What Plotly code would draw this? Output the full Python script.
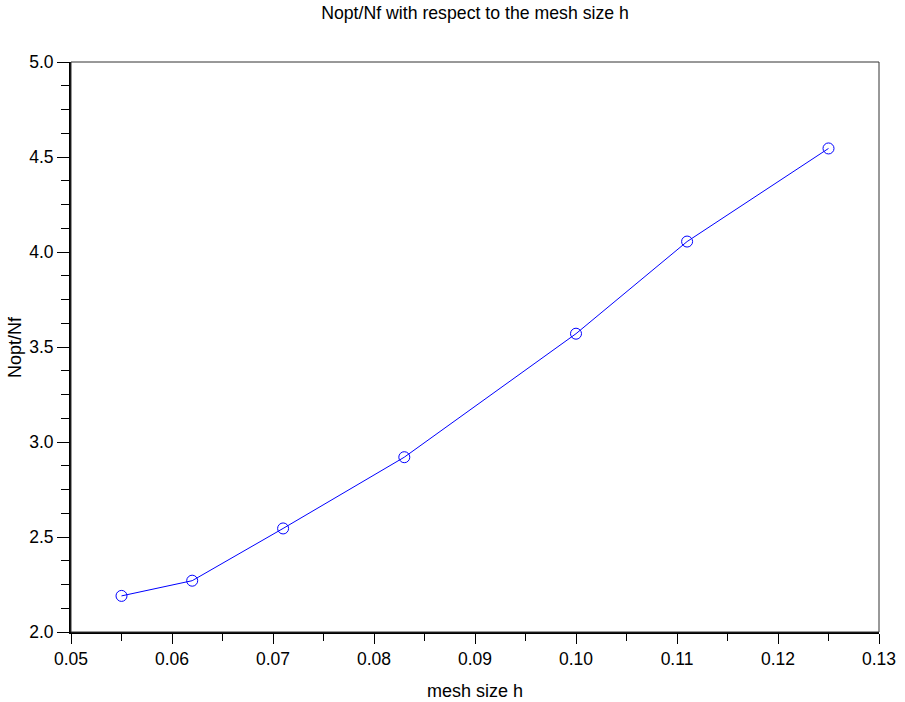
import plotly.graph_objects as go

h = [0.055, 0.062, 0.071, 0.083, 0.100, 0.111, 0.125]
ratio = [2.19, 2.27, 2.545, 2.92, 3.57, 4.055, 4.545]

x_ticks = [0.05, 0.06, 0.07, 0.08, 0.09, 0.10, 0.11, 0.12, 0.13]
x_labels = ["0.05", "0.06", "0.07", "0.08", "0.09", "0.10", "0.11", "0.12", "0.13"]
y_ticks = [2.0, 2.5, 3.0, 3.5, 4.0, 4.5, 5.0]
y_labels = ["2.0", "2.5", "3.0", "3.5", "4.0", "4.5", "5.0"]

fig = go.Figure()
fig.add_trace(go.Scatter(
    x=h, y=ratio, mode="lines+markers",
    line=dict(color="#0000ff", width=1),
    marker=dict(symbol="circle-open", size=11, color="#0000ff", line=dict(width=1)),
    showlegend=False, cliponaxis=False,
))

font = "Liberation Sans, Arial, Helvetica, sans-serif"
fig.update_layout(
    template="none",
    width=905, height=702,
    margin=dict(l=71, r=26, t=62, b=70, autoexpand=False),
    paper_bgcolor="white", plot_bgcolor="white",
    font=dict(family=font, color="black", size=17.5),
    title=dict(text="Nopt/Nf with respect to the mesh size h", x=0.5, xref="paper",
               xanchor="center", y=1 - 13 / 702, yref="container", yanchor="middle",
               font=dict(size=17.7)),
)
fig.update_xaxes(
    range=[0.05, 0.13], tickvals=x_ticks, ticktext=x_labels, automargin=False,
    showgrid=False, zeroline=False, showline=True, linecolor="black", linewidth=2,
    ticks="outside", ticklen=10, tickwidth=1, tickcolor="black",
    minor=dict(dtick=0.005, tick0=0.05, ticks="outside", ticklen=7, tickcolor="black", showgrid=False),
    title=dict(text="mesh size h", font=dict(size=18), standoff=16),
    tickfont=dict(size=17.5),
)
fig.update_yaxes(
    range=[2.0, 5.0], tickvals=y_ticks, ticktext=y_labels, automargin=False,
    showgrid=False, zeroline=False, showline=True, linecolor="black", linewidth=2,
    ticks="outside", ticklen=12, tickwidth=1, tickcolor="black",
    minor=dict(dtick=0.125, tick0=2.0, ticks="outside", ticklen=8, tickcolor="black", showgrid=False),
    tickfont=dict(size=17.5),
)
fig.add_annotation(text="Nopt/Nf", xref="paper", yref="paper", x=(15 - 71) / 808, y=0.5,
                   xanchor="center", yanchor="middle", textangle=-90, showarrow=False,
                   font=dict(size=18))
fig.add_shape(type="rect", xref="paper", yref="paper", x0=0, y0=0, x1=1, y1=1,
              line=dict(color="#333333", width=1), layer="above")
fig.write_html("out.html", config={"displayModeBar": False},
               post_script="document.body.style.margin='0';")
